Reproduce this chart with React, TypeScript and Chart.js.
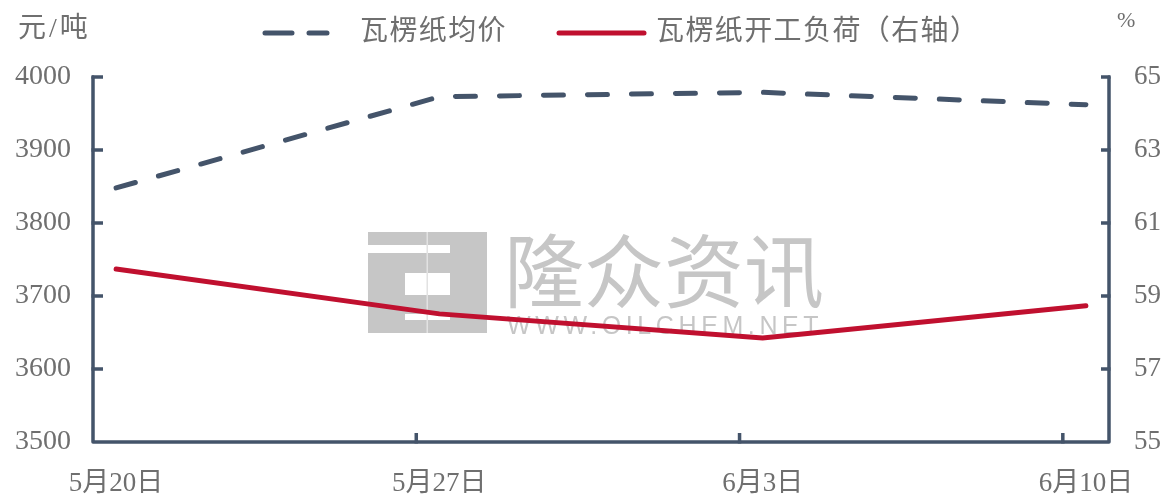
import React, { useEffect, useRef } from 'react';
import { Chart, registerables } from 'chart.js';

Chart.register(...registerables);

// ---- data ----
const dateLabels = ['5月20日', '5月27日', '6月3日', '6月10日'];
const dayOffsets = [0, 7, 14, 21];
const axisDays = 22;
const seriesNames = ['瓦楞纸均价', '瓦楞纸开工负荷（右轴）'];
const avgPrice = [3848, 3973, 3979, 3962];
const operatingLoad = [59.74, 58.51, 57.85, 58.73];
const leftRange = [3500, 4000];
const leftStep = 100;
const rightRange = [55, 65];
const rightStep = 2;
const leftUnit = '元/吨';
const rightUnit = '%';
const watermarkCn = '隆众资讯';
const watermarkEn = 'WWW.OILCHEM.NET';

// ---- styles ----
const AXIS = '#44546A';
const RED = '#C0102F';
const TEXT = '#6f6f6f';
const FONT = "'Liberation Serif', 'Noto Sans CJK SC', serif";
const WM = '#c6c6c6';

const setSpacing = (ctx: any, v: string) => {
  try { ctx.letterSpacing = v; } catch (e) {}
};

const decor = {
  id: 'decor',
  beforeDatasetsDraw(chart: any) {
    const ctx = chart.ctx;
    ctx.save();
    // logo block
    ctx.fillStyle = WM;
    ctx.fillRect(368, 232, 119, 101);
    ctx.fillStyle = '#ffffff';
    ctx.fillRect(368, 245, 82, 8);
    ctx.fillRect(405, 273, 45, 22);
    ctx.fillRect(405, 314, 45, 6);
    ctx.fillStyle = '#e2e2e2';
    ctx.fillRect(426.5, 232, 1.5, 101);
    // text
    ctx.fillStyle = WM;
    ctx.textBaseline = 'middle';
    ctx.textAlign = 'left';
    ctx.font = "80px 'Noto Sans CJK SC'";
    ctx.fillText(watermarkCn, 504, 271);
    ctx.font = "25px 'Liberation Sans'";
    setSpacing(ctx, '4.6px');
    ctx.fillText(watermarkEn, 507, 327);
    setSpacing(ctx, '0px');
    ctx.restore();
  },
  afterDraw(chart: any) {
    const ctx = chart.ctx;
    const { left, right, top, bottom } = chart.chartArea;
    const yL = chart.scales.y;
    const yR = chart.scales.y1;
    const x = chart.scales.x;
    ctx.save();
    // axes frame
    ctx.strokeStyle = AXIS;
    ctx.lineWidth = 3.5;
    ctx.lineJoin = 'round';
    ctx.lineCap = 'round';
    ctx.beginPath();
    ctx.moveTo(left, top);
    ctx.lineTo(left, bottom);
    ctx.lineTo(right, bottom);
    ctx.lineTo(right, top);
    ctx.stroke();
    // inward tick marks
    ctx.lineCap = 'butt';
    ctx.beginPath();
    yL.ticks.forEach((t: any) => {
      if (t.value <= leftRange[0]) return;
      const py = yL.getPixelForValue(t.value);
      ctx.moveTo(left - 1.5, py);
      ctx.lineTo(left + 10, py);
    });
    yR.ticks.forEach((t: any) => {
      if (t.value <= rightRange[0]) return;
      const py = yR.getPixelForValue(t.value);
      ctx.moveTo(right + 1.5, py);
      ctx.lineTo(right - 8, py);
    });
    dayOffsets.forEach((d) => {
      if (d <= 0) return;
      const px = x.getPixelForValue(d);
      ctx.moveTo(px, bottom + 1.5);
      ctx.lineTo(px, bottom - 9);
    });
    ctx.stroke();

    // legend
    const ly = 33;
    ctx.lineWidth = 5;
    ctx.lineCap = 'round';
    ctx.strokeStyle = AXIS;
    ctx.beginPath();
    ctx.moveTo(265, ly);
    ctx.lineTo(292, ly);
    ctx.moveTo(309, ly);
    ctx.lineTo(327, ly);
    ctx.stroke();
    ctx.strokeStyle = RED;
    ctx.beginPath();
    ctx.moveTo(559, ly);
    ctx.lineTo(644, ly);
    ctx.stroke();

    ctx.fillStyle = TEXT;
    ctx.textBaseline = 'middle';
    ctx.textAlign = 'left';
    ctx.font = `28px ${FONT}`;
    setSpacing(ctx, '1.4px');
    ctx.fillText(seriesNames[0], 360, ly);
    ctx.fillText(seriesNames[1], 656, ly);
    setSpacing(ctx, '3px');
    ctx.fillText(leftUnit, 18, 30);
    setSpacing(ctx, '0px');
    ctx.font = `22px ${FONT}`;
    ctx.fillText(rightUnit, 1117, 21);
    ctx.restore();
  },
};

export default function App() {
  const canvasRef = useRef<HTMLCanvasElement | null>(null);

  useEffect(() => {
    if (!canvasRef.current) return;
    const tickFont = { family: FONT, size: 27 };
    const chart = new Chart(canvasRef.current, {
      type: 'line',
      data: {
        datasets: [
          {
            label: seriesNames[0],
            data: avgPrice.map((v, i) => ({ x: dayOffsets[i] + 0.5, y: v })),
            yAxisID: 'y',
            borderColor: AXIS,
            borderWidth: 5,
            borderDash: [20, 24],
            borderCapStyle: 'round',
            pointRadius: 0,
            tension: 0,
            fill: false,
          },
          {
            label: seriesNames[1],
            data: operatingLoad.map((v, i) => ({ x: dayOffsets[i] + 0.5, y: v })),
            yAxisID: 'y1',
            borderColor: RED,
            borderWidth: 5,
            borderCapStyle: 'round',
            pointRadius: 0,
            tension: 0,
            fill: false,
          },
        ],
      },
      options: {
        animation: false,
        responsive: true,
        maintainAspectRatio: false,
        layout: { padding: { top: 77, left: 0, right: 0, bottom: 0 } },
        plugins: { legend: { display: false }, tooltip: { enabled: false } },
        scales: {
          x: {
            type: 'linear',
            min: 0,
            max: axisDays,
            grid: { display: false, drawTicks: false },
            border: { display: false },
            afterBuildTicks: (s: any) => {
              s.ticks = dayOffsets.map((d) => ({ value: d + 0.5 }));
            },
            ticks: {
              autoSkip: false,
              maxRotation: 0,
              padding: 26,
              color: TEXT,
              font: { family: FONT, size: 27 },
              callback: (v: any) => {
                const i = dayOffsets.findIndex((d) => Math.abs(d + 0.5 - Number(v)) < 1e-6);
                return i >= 0 ? dateLabels[i] : '';
              },
            },
            afterFit: (s: any) => {
              s.height = 53;
            },
          },
          y: {
            type: 'linear',
            position: 'left',
            min: leftRange[0],
            max: leftRange[1],
            grid: { display: false, drawTicks: false },
            border: { display: false },
            ticks: {
              stepSize: leftStep,
              padding: 22,
              color: TEXT,
              font: { family: FONT, size: 28 },
              callback: (v: any) => String(v),
            },
            afterFit: (s: any) => {
              s.width = 93;
            },
          },
          y1: {
            type: 'linear',
            position: 'right',
            min: rightRange[0],
            max: rightRange[1],
            grid: { display: false, drawTicks: false },
            border: { display: false },
            ticks: {
              stepSize: rightStep,
              padding: 25,
              color: TEXT,
              font: tickFont,
              callback: (v: any) => String(v),
            },
            afterFit: (s: any) => {
              s.width = 66;
            },
          },
        },
      },
      plugins: [decor],
    } as any);
    return () => chart.destroy();
  }, []);

  return (
    <div style={{ position: 'absolute', left: 0, top: 0, width: 1175, height: 495, background: '#fff' }}>
      <canvas ref={canvasRef} />
    </div>
  );
}
